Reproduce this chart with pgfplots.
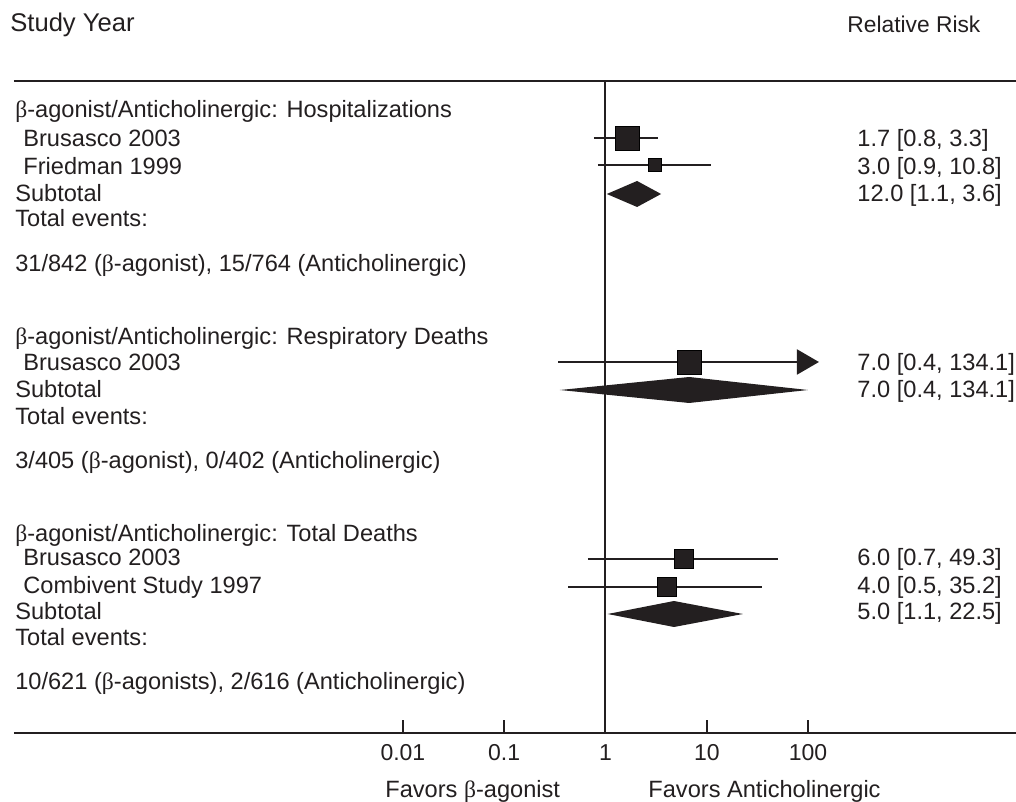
\documentclass[border=0pt]{standalone}
\usepackage{fontspec}
\setmainfont{Liberation Sans}
\newfontfamily\grk{Liberation Serif}
\usepackage{pgfplots}
\pgfplotsset{compat=1.18}
\usetikzlibrary{arrows.meta}
\definecolor{fg}{RGB}{35,31,32}
\newcommand{\B}{{\grk β}}
\tikzset{txt/.style={anchor=base west, inner sep=0pt, font=\fontsize{11.8}{13}\selectfont, text=fg}}
\begin{document}
\begin{tikzpicture}
\begin{axis}[
  scale only axis, width=501pt, height=366.5pt,
  xmode=log, xmin=1.449e-6, xmax=11279, ymin=69, ymax=802,
  axis x line=bottom, axis y line=none,
  x axis line style={-, line width=1pt, color=fg},
  xtick={0.01,0.1,1,10,100}, xticklabels={0.01,0.1,1,10,100},
  xminorticks=false,
  tick align=inside, major tick length=6.5pt,
  tick style={line width=1pt, color=fg},
  xticklabel style={anchor=base, yshift=-13.5pt, font=\fontsize{11.5}{13}\selectfont, text=fg},
  /pgf/number format/assume math mode=true,
  clip=false,
]
\coordinate (bl) at (axis cs:1.054e-6,0);
\coordinate (tr) at (axis cs:11279,802);
% header lines
\addplot[fg, line width=1pt] coordinates {(1.449e-6,721) (11279,721)};
\addplot[fg, line width=1pt] coordinates {(1,721) (1,69)};
% Hospitalizations
\addplot[fg, line width=1pt] coordinates {(0.77,664) (3.3,664)};
\addplot[only marks, mark=square*, mark size=6pt, mark options={draw=none, fill=fg}] coordinates {(1.65,664)};
\addplot[fg, line width=1pt] coordinates {(0.84,637) (10.9,637)};
\addplot[only marks, mark=square*, mark size=3.25pt, mark options={draw=none, fill=fg}] coordinates {(3.05,637)};
\addplot[fill=fg, draw=none] coordinates {(1.03,608) (2.05,621) (3.54,608) (2.05,595)} --cycle;
% Respiratory deaths
\addplot[fg, line width=1pt, -{Triangle[length=11pt, width=12.5pt]}] coordinates {(0.34,440) (128,440)};
\addplot[only marks, mark=square*, mark size=6pt, mark options={draw=none, fill=fg}] coordinates {(6.8,440)};
\addplot[fill=fg, draw=none] coordinates {(0.355,412) (6.7,425) (99.7,412) (6.7,399)} --cycle;
% Total deaths
\addplot[fg, line width=1pt] coordinates {(0.67,243) (50.5,243)};
\addplot[only marks, mark=square*, mark size=4.75pt, mark options={draw=none, fill=fg}] coordinates {(6.0,243)};
\addplot[fg, line width=1pt] coordinates {(0.43,215) (35,215)};
\addplot[only marks, mark=square*, mark size=4.75pt, mark options={draw=none, fill=fg}] coordinates {(4.0,215)};
\addplot[fill=fg, draw=none] coordinates {(1.05,188) (4.74,201) (22.7,188) (4.74,175)} --cycle;
% texts
\node[txt, font=\fontsize{12.8}{14}\selectfont] at (axis cs:1.321e-6,770) {Study Year};
\node[txt, font=\fontsize{11.4}{13}\selectfont] at (axis cs:242,769) {Relative Risk};
\node[txt] at (axis cs:1.48e-6,684) {\B-agonist/Anticholinergic: Hospitalizations};
\node[txt] at (axis cs:1.777e-6,655) {Brusasco 2003};
\node[txt] at (axis cs:1.777e-6,627) {Friedman 1999};
\node[txt] at (axis cs:1.48e-6,600) {Subtotal};
\node[txt] at (axis cs:1.48e-6,575) {Total events:};
\node[txt] at (axis cs:1.48e-6,530) {31/842 (\B-agonist), 15/764 (Anticholinergic)};
\node[txt] at (axis cs:1.48e-6,457) {\B-agonist/Anticholinergic: Respiratory Deaths};
\node[txt] at (axis cs:1.777e-6,431) {Brusasco 2003};
\node[txt] at (axis cs:1.48e-6,404) {Subtotal};
\node[txt] at (axis cs:1.48e-6,377) {Total events:};
\node[txt] at (axis cs:1.48e-6,333) {3/405 (\B-agonist), 0/402 (Anticholinergic)};
\node[txt] at (axis cs:1.48e-6,260) {\B-agonist/Anticholinergic: Total Deaths};
\node[txt] at (axis cs:1.777e-6,236) {Brusasco 2003};
\node[txt] at (axis cs:1.777e-6,208) {Combivent Study 1997};
\node[txt] at (axis cs:1.48e-6,182) {Subtotal};
\node[txt] at (axis cs:1.48e-6,157) {Total events:};
\node[txt] at (axis cs:1.48e-6,113) {10/621 (\B-agonists), 2/616 (Anticholinergic)};
% right column
\node[txt] at (axis cs:304.4,655) {1.7 [0.8, 3.3]};
\node[txt] at (axis cs:304.4,627) {3.0 [0.9, 10.8]};
\node[txt] at (axis cs:304.4,600) {12.0 [1.1, 3.6]};
\node[txt] at (axis cs:304.4,431) {7.0 [0.4, 134.1]};
\node[txt] at (axis cs:304.4,404) {7.0 [0.4, 134.1]};
\node[txt] at (axis cs:304.4,236) {6.0 [0.7, 49.3]};
\node[txt] at (axis cs:304.4,208) {4.0 [0.5, 35.2]};
\node[txt] at (axis cs:304.4,182) {5.0 [1.1, 22.5]};
% bottom labels
\node[txt] at (axis cs:0.00665,5) {Favors \B-agonist};
\node[txt] at (axis cs:2.63,5) {Favors Anticholinergic};
\end{axis}
\pgfresetboundingbox
\path (bl) rectangle (tr);
\end{tikzpicture}
\end{document}
